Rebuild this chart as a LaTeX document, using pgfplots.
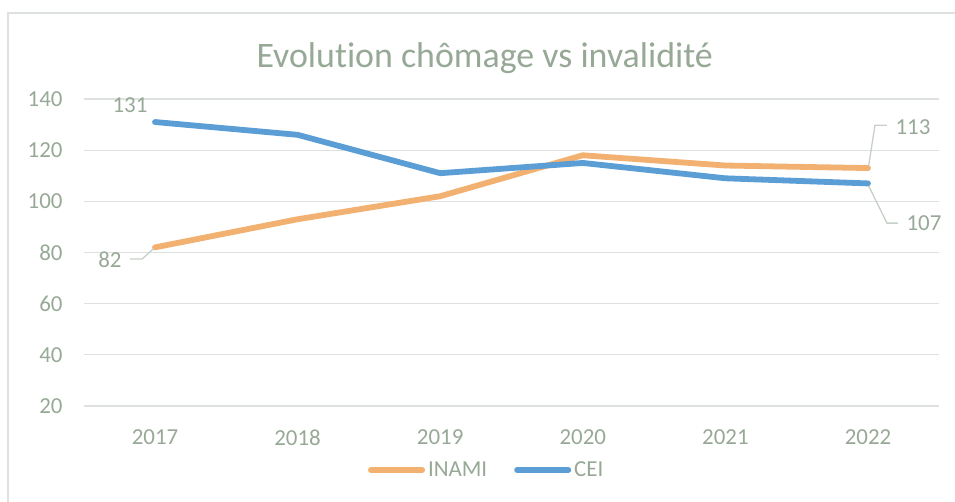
\documentclass[border=0pt]{standalone}
\usepackage{pgfplots}
\pgfplotsset{compat=1.18}
\usepackage{fontspec}
\setmainfont[Ligatures=NoCommon]{Carlito}
\definecolor{txtgray}{RGB}{151,169,150}
\definecolor{gridgray}{RGB}{222,226,222}
\definecolor{leadgray}{RGB}{198,208,198}
\definecolor{inami}{RGB}{242,177,112}
\definecolor{cei}{RGB}{91,157,213}
\begin{document}
\begin{tikzpicture}
\useasboundingbox (0,0) rectangle (955bp,502bp);
\draw[gridgray, line width=1.3bp] (8bp,-20bp) -- (8bp,489bp) -- (990bp,489bp);
\begin{axis}[
  at={(83.7bp,96bp)}, anchor=south west,
  scale only axis, width=855.6bp, height=307bp,
  xmin=-0.5, xmax=5.5, ymin=20, ymax=140,
  xtick={0,1,2,3,4,5},
  xticklabels={2017,2018,2019,2020,2021,2022},
  ytick={20,40,60,80,100,120,140},
  ymajorgrids,
  grid style={gridgray, line width=1.3bp},
  axis line style={draw=none},
  tick style={draw=none},
  clip=false,
  /pgf/number format/assume math mode=true,
  ticklabel style={font=\fontsize{23}{28}\selectfont, text=txtgray, inner sep=0pt},
  yticklabel style={anchor=east, xshift=-21bp},
  xticklabel style={anchor=north, yshift=-23.5bp},
  title={Evolution chômage vs invalidité},
  every axis title shift=0pt,
  title style={at={(0.4687,1.101)}, anchor=base, font=\fontsize{36}{42}\selectfont, text=txtgray, inner sep=0pt},
  legend columns=2,
  legend style={at={(0.3323,-0.2085)}, anchor=west, draw=none, fill=none,
    inner sep=0pt, outer sep=0pt,
    font=\fontsize{23}{28}\selectfont, text=txtgray,
    nodes={inner sep=0pt},
    /tikz/every odd column/.append style={column sep=3bp},
    /tikz/every even column/.append style={column sep=27bp}},
  legend image code/.code={\draw[#1, line width=5.8bp, line cap=round] (2.9bp,0bp) -- (54.1bp,0bp);},
]
\addplot[inami, line width=5.8bp, line cap=round, line join=round] coordinates {(0,82) (1,93) (2,102) (3,118) (4,114) (5,113)};
\addlegendentry{INAMI}
\addplot[cei, line width=5.8bp, line cap=round, line join=round] coordinates {(0,131) (1,126) (2,111) (3,115) (4,109) (5,107)};
\addlegendentry{CEI}
\draw[leadgray, line width=1.3bp] (axis cs:-0.1753,77.42) -- (axis cs:-0.0912,77.42) -- (axis cs:-0.01,81.5);
\draw[leadgray, line width=1.3bp] (axis cs:5.005,114) -- (axis cs:5.049,129.77) -- (axis cs:5.133,129.77);
\draw[leadgray, line width=1.3bp] (axis cs:5.005,106) -- (axis cs:5.133,91.48) -- (axis cs:5.21,91.48);
\node[font=\fontsize{23}{28}\selectfont, text=txtgray, inner sep=0pt] at (axis cs:-0.3156,77.03) {82};
\node[font=\fontsize{23}{28}\selectfont, text=txtgray, inner sep=0pt] at (axis cs:-0.1753,137.58) {131};
\node[font=\fontsize{23}{28}\selectfont, text=txtgray, inner sep=0pt] at (axis cs:5.3156,128.98) {113};
\node[font=\fontsize{23}{28}\selectfont, text=txtgray, inner sep=0pt] at (axis cs:5.393,91.5) {107};
\end{axis}
\end{tikzpicture}
\end{document}
